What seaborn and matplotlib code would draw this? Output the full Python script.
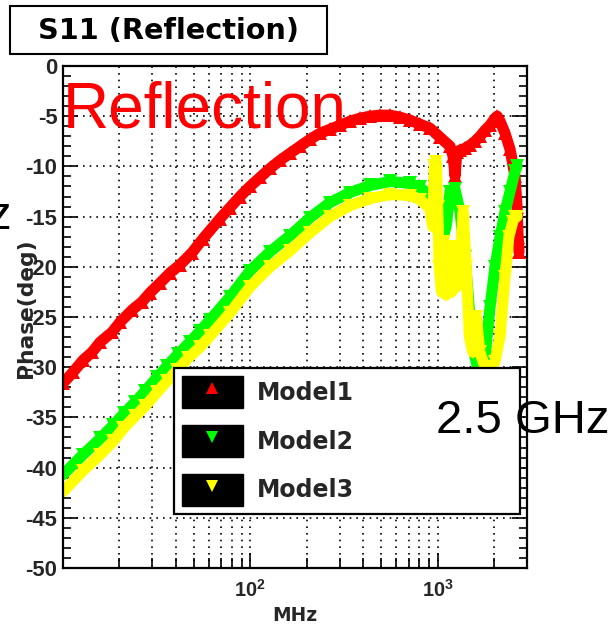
import numpy as np
import pandas as pd
import seaborn as sns
import matplotlib
matplotlib.use("Agg")
import matplotlib.pyplot as plt
from matplotlib.patches import Rectangle, Patch
from matplotlib.lines import Line2D
from matplotlib.ticker import FixedLocator, NullFormatter, MultipleLocator

# ---------------- data ----------------
series_names = ["Model1", "Model2", "Model3"]

model1_mhz = [10.0, 11.3, 12.8, 14.3, 15.8, 18.3, 20.2, 23.4, 26.4, 29.1, 33.0, 37.3, 42.1, 48.8,
              55.9, 68.9, 77.9, 88.1, 99.6, 112.7, 127.4, 144.1, 162.9, 184.2, 208.4, 235.6, 266.5,
              301.3, 340.7, 385.3, 435.7, 492.7, 557.1, 630.0, 712.4, 805.6, 910.9, 1030, 1165, 1210,
              1239, 1265, 1317, 1401, 1489, 1584, 1684, 1791, 1905, 2025, 2080, 2154, 2290, 2436,
              2590, 2654, 2690, 2720]
model1_phase = [-31.6, -30.5, -29.3, -28.5, -27.5, -26.5, -25.5, -24.3, -23.5, -22.6, -21.6, -20.6,
                -19.8, -18.6, -17.2, -15.2, -14.1, -13.0, -12.0, -11.1, -10.2, -9.4, -8.7, -8.0, -7.3,
                -6.7, -6.3, -5.9, -5.5, -5.2, -5.0, -4.9, -4.9, -5.1, -5.4, -5.8, -6.2, -7.1, -8.0,
                -9.0, -11.0, -8.6, -8.4, -8.2, -7.9, -7.5, -7.0, -6.4, -5.9, -5.2, -5.0, -5.5, -6.7,
                -8.3, -11.0, -14.0, -17.0, -18.5]

model2_mhz = [10.0, 12.8, 15.8, 18.5, 21.2, 24.2, 27.4, 31.8, 35.9, 41.1, 47.6, 53.9, 60.9, 77.9,
              99.6, 127.4, 162.9, 208.4, 266.5, 340.7, 435.7, 557.1, 712.4, 805.6, 910.9, 970, 1000,
              1030, 1070, 1110, 1165, 1239, 1317, 1400, 1489, 1584, 1684, 1791, 1905, 2025, 2154,
              2290, 2436, 2590, 2654]
model2_phase = [-40.7, -38.7, -37.1, -35.8, -34.6, -33.5, -32.4, -31.0, -29.9, -28.7, -27.5, -26.4,
                -25.3, -23.0, -20.4, -18.5, -16.9, -15.1, -13.6, -12.6, -11.9, -11.5, -11.7, -12.1,
                -12.9, -13.5, -15.5, -17.5, -17.0, -16.0, -12.5, -12.3, -14.5, -19.0, -25.0, -29.0,
                -31.0, -29.0, -24.0, -20.0, -17.0, -14.5, -12.5, -10.5, -10.0]

model3_mhz = [10.0, 12.8, 15.8, 18.5, 21.0, 24.2, 27.4, 31.8, 35.9, 40.6, 46.5, 53.9, 60.9, 77.9,
              99.6, 127.4, 162.9, 208.4, 266.5, 340.7, 435.7, 557.1, 712.4, 805.6, 910.9, 940, 960,
              985, 1000, 1020, 1050, 1080, 1110, 1150, 1190, 1230, 1270, 1320, 1370, 1420, 1480,
              1540, 1610, 1680, 1790, 1900, 2020, 2150, 2290, 2400, 2520, 2600, 2654]
model3_phase = [-42.4, -40.3, -38.7, -37.4, -36.1, -34.9, -33.9, -32.5, -31.4, -30.3, -29.1, -28.0,
                -26.9, -24.6, -22.0, -20.0, -18.4, -16.6, -15.0, -13.9, -13.2, -12.8, -12.9, -13.3,
                -14.2, -16.0, -10.0, -9.6, -14.0, -20.0, -22.5, -17.5, -22.8, -18.0, -22.5, -18.0,
                -22.0, -19.0, -14.5, -20.0, -27.0, -28.5, -25.0, -28.5, -30.0, -30.5, -29.5, -27.0,
                -21.0, -17.0, -15.5, -15.0, -15.0]

x_major_ticks = [100, 1000]
x_major_labels = [r"$\mathbf{10^{2}}$", r"$\mathbf{10^{3}}$"]
y_ticks = list(range(-50, 1, 5))
y_tick_labels = [str(v) for v in y_ticks]

# ---------------- style ----------------
sns.set_theme(style="white")
plt.rcParams["font.family"] = ["DejaVu Sans"]
plt.rcParams["axes.unicode_minus"] = False
plt.rcParams["mathtext.fontset"] = "custom"
plt.rcParams["mathtext.bf"] = "Liberation Sans:bold"
plt.rcParams["mathtext.rm"] = "Liberation Sans"

W, H = 613, 625
fig = plt.figure(figsize=(W / 100, H / 100), dpi=100)
fig.patch.set_facecolor("white")
ax = fig.add_axes([63 / W, 1 - 568 / H, 464 / W, 502 / H])
ax.set_facecolor("white")

colors = ["#ff0000", "#00ff00", "#ffff00"]
markers = ["^", "v", "v"]
data = [(model1_mhz, model1_phase), (model2_mhz, model2_phase), (model3_mhz, model3_phase)]

for (f, p), col, mk, name in zip(data, colors, markers, series_names):
    df = pd.DataFrame({"MHz": f, "Phase": p})
    sns.lineplot(data=df, x="MHz", y="Phase", ax=ax, color=col, linewidth=8,
                 marker=mk, markersize=10, markeredgewidth=0, markeredgecolor=col,
                 estimator=None, sort=False, legend=False)

ax.set_xscale("log")
ax.set_xlim(10, 3000)
ax.set_ylim(-50, 0)

ax.set_xticks(x_major_ticks, labels=x_major_labels, fontsize=14.4)
minor_x = [20, 30, 40, 50, 60, 70, 80, 90, 200, 300, 400, 500, 600, 700, 800, 900, 2000, 3000]
ax.xaxis.set_minor_locator(FixedLocator(minor_x))
ax.xaxis.set_minor_formatter(NullFormatter())
ax.set_yticks(y_ticks, labels=y_tick_labels, fontsize=15.8, fontweight="bold",
              fontfamily="Liberation Sans")
ax.yaxis.set_minor_locator(MultipleLocator(1))

ax.tick_params(axis="both", which="both", direction="in", color="black", width=1.2)
ax.tick_params(axis="y", which="major", length=11, left=True, right=True, pad=4)
ax.tick_params(axis="y", which="minor", length=6, left=True, right=True)
ax.tick_params(axis="x", which="major", length=11, bottom=True, top=False, pad=8)
ax.tick_params(axis="x", which="minor", length=7, bottom=True, top=False)

grid_kw = dict(color="black", linestyle=(0, (1, 3)), linewidth=1.2)
ax.grid(True, which="major", axis="both", **grid_kw)
ax.grid(True, which="minor", axis="x", **grid_kw)
ax.set_axisbelow(True)

for s in ax.spines.values():
    s.set_color("black")
    s.set_linewidth(1.6)

ax.set_xlabel("MHz", fontsize=13.4, fontweight="bold")
ax.xaxis.set_label_coords(0.5, -0.076)
ax.set_ylabel("Phase(deg)", fontsize=15.7, fontweight="bold")
ax.yaxis.set_label_coords(-0.058, 0.518)

# legend with black swatches
handles = []
for col, mk in zip(colors, markers):
    handles.append((Patch(facecolor="black", edgecolor="black"),
                    Line2D([], [], marker=mk, color=col, linestyle="none",
                           markersize=9, markeredgewidth=0)))
leg = ax.legend(handles, series_names, loc="upper left",
                bbox_to_anchor=((174 - 63) / 464, 0.0, (520 - 174) / 464, (568 - 368) / 502),
                mode="expand", borderaxespad=0,
                prop=dict(family="DejaVu Sans", weight="bold", size=17),
                handlelength=2.58, handleheight=1.7, handletextpad=0.6,
                labelspacing=0.72, borderpad=0.34, frameon=True, fancybox=False,
                edgecolor="black", framealpha=1, facecolor="white")
leg.get_frame().set_linewidth(1.6)

# title box
fig.patches.append(Rectangle((10 / W, 1 - 54 / H), 317 / W, 48 / H, transform=fig.transFigure,
                             facecolor="white", edgecolor="black", linewidth=1.5))
fig.text(168 / W, 1 - 39 / H, "S11 (Reflection)", ha="center", va="baseline",
         fontsize=20.7, fontweight="bold", color="black")

# overlaid annotations
fig.text(63 / W, 1 - 128 / H, "Reflection", color="red", fontsize=46,
         fontfamily="Liberation Sans", va="baseline", ha="left")
fig.text(436 / W, 1 - 433 / H, "2.5 GHz", color="black", fontsize=34,
         fontfamily="Liberation Sans", va="baseline", ha="left")
fig.text(11 / W, 1 - 229 / H, "z", color="black", fontsize=34,
         fontfamily="Liberation Sans", va="baseline", ha="right")

fig.savefig("out.png", dpi=100, facecolor="white")
